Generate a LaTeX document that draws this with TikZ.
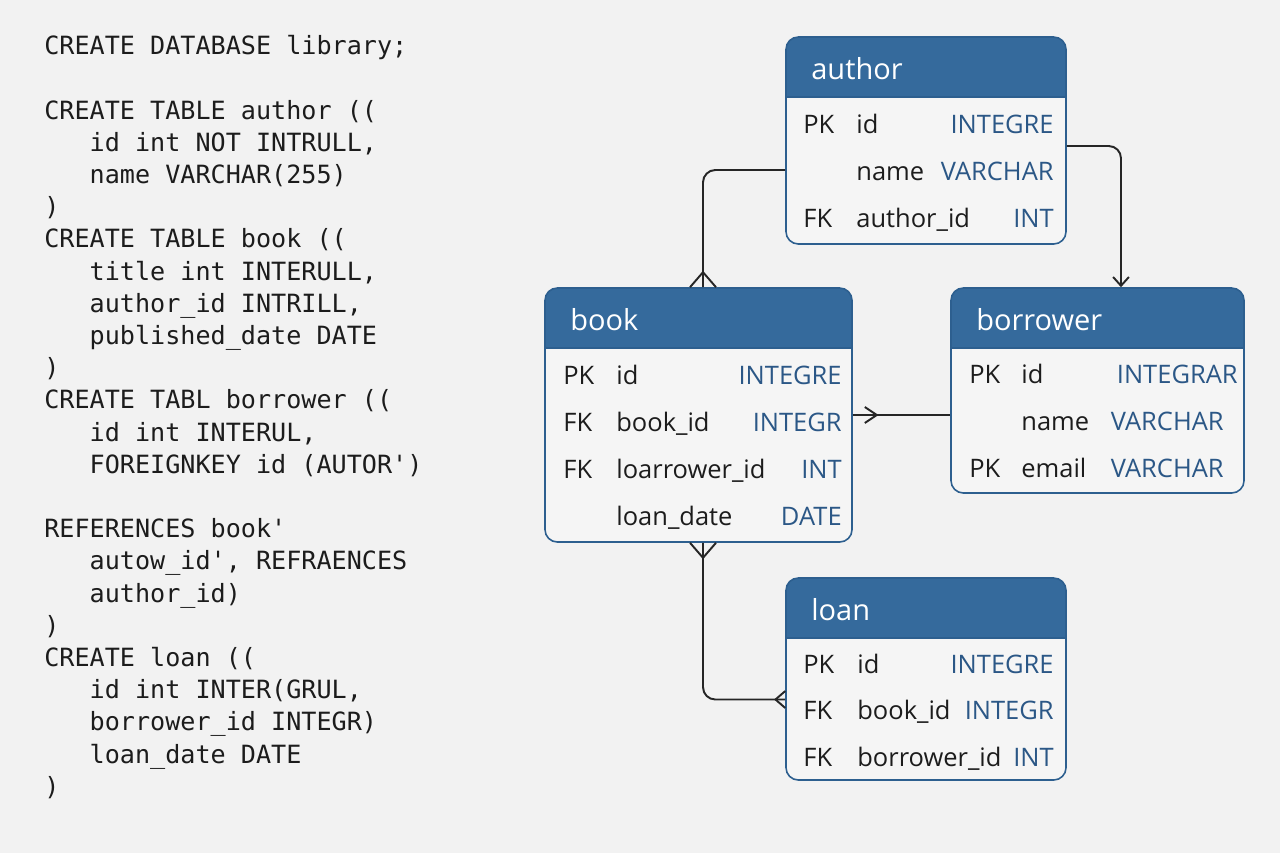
\documentclass[tikz,border=0pt]{standalone}
\usepackage{fontspec}
\setmainfont{Open Sans}
\newfontfamily\codefont{DejaVu Sans Mono}
\usetikzlibrary{arrows.meta,fit}

\definecolor{bgcol}{HTML}{F2F2F2}
\definecolor{ink}{HTML}{1C1C1C}
\definecolor{typecol}{HTML}{2B5786}
\definecolor{tblhead}{HTML}{356A9C}
\definecolor{framecol}{HTML}{2D5F8F}
\definecolor{tblbody}{HTML}{F5F5F5}
\definecolor{linecol}{HTML}{262626}

\newcommand{\ind}{\phantom{xxx}}

\tikzset{
  code/.style={font=\codefont\fontsize{14.3}{18.33}\selectfont, text=ink, align=left, inner sep=0pt},
  tblframe/.style={draw=framecol, line width=0.9pt, rounded corners=7pt, inner sep=0pt},
  tbltitle/.style={font=\fontsize{16.5}{20}\selectfont, text=white, anchor=base west, inner sep=0pt},
  keytxt/.style={font=\fontsize{14.5}{17}\selectfont, text=ink, anchor=base west, inner sep=0pt},
  typetxt/.style={font=\fontsize{14.5}{17}\selectfont, text=typecol, anchor=base east, inner sep=0pt},
  rel/.style={draw=linecol, line width=1.1pt, rounded corners=7pt},
  crowfoot/.pic={\draw[rel, rounded corners=0pt] (-0.26cm,0cm) -- (0cm,0.3cm) -- (0.26cm,0cm);}
}

% table: name, x1, y1, x2, y2, title
\newcommand{\ertable}[6]{%
  \begin{scope}
    \clip[rounded corners=7pt] (#2,#3) rectangle (#4,#5);
    \fill[tblbody] (#2,#3) rectangle (#4,#5);
    \fill[tblhead] (#2,#3) rectangle (#4,#3+60);
  \end{scope}
  \draw[framecol, line width=0.9pt] (#2,#3+60) -- (#4,#3+60);
  \node[tblframe, fit={(#2,#3) (#4,#5)}] (#1) {};
  \node[tbltitle] (#1-title) at (#2+25,#3+42) {#6};
}

\begin{document}
\begin{tikzpicture}[x=0.02cm, y=-0.02cm]
  \useasboundingbox (0,0) rectangle (1280,853);
  \fill[bgcol] (0,0) rectangle (1280,853);

  % SQL listing
  \node[code, anchor=north west] (sql) at (44,35) {CREATE DATABASE library;\\
    \mbox{}\\
    CREATE TABLE author ((\\
    \ind id int NOT INTRULL,\\
    \ind name VARCHAR(255)\\
    )\\
    CREATE TABLE book ((\\
    \ind title int INTERULL,\\
    \ind author\_id INTRILL,\\
    \ind published\_date DATE\\
    )\\
    CREATE TABL borrower ((\\
    \ind id int INTERUL,\\
    \ind FOREIGNKEY id (AUTOR')\\
    \mbox{}\\
    REFERENCES book'\\
    \ind autow\_id', REFRAENCES\\
    \ind author\_id)\\
    )\\
    CREATE loan ((\\
    \ind id int INTER(GRUL,\\
    \ind borrower\_id INTEGR)\\
    \ind loan\_date DATE\\
    )};

  % tables
  \ertable{author}{786}{37}{1066}{244}{author}
  \foreach \y/\k/\f/\t/\tx in {133/PK/id/INTEGRE/1054, 180//name/VARCHAR/1054, 227/FK/author\_id/INT/1054}{
    \node[keytxt] (author-k\y) at (803,\y) {\k};
    \node[keytxt] (author-f\y) at (856,\y) {\f};
    \node[typetxt] (author-t\y) at (\tx,\y) {\t};
  }

  \ertable{book}{545}{288}{852}{542}{book}
  \foreach \y/\k/\f/\t/\tx in {384/PK/id/INTEGRE/842, 431/FK/book\_id/INTEGR/842, 478/FK/loarrower\_id/INT/842, 525//loan\_date/DATE/842}{
    \node[keytxt] (book-k\y) at (563,\y) {\k};
    \node[keytxt] (book-f\y) at (616,\y) {\f};
    \node[typetxt] (book-t\y) at (\tx,\y) {\t};
  }

  \ertable{borrower}{951}{288}{1244}{493}{borrower}
  \foreach \y/\k/\f/\t/\tx in {383/PK/id/INTEGRAR/1238, 430//name/VARCHAR/1224, 477/PK/email/VARCHAR/1224}{
    \node[keytxt] (borrower-k\y) at (969,\y) {\k};
    \node[keytxt] (borrower-f\y) at (1021,\y) {\f};
    \node[typetxt] (borrower-t\y) at (\tx,\y) {\t};
  }

  \ertable{loan}{786}{578}{1066}{780}{loan}
  \foreach \y/\k/\f/\t/\tx in {673/PK/id/INTEGRE/1054, 719/FK/book\_id/INTEGR/1054, 766/FK/borrower\_id/INT/1054}{
    \node[keytxt] (loan-k\y) at (803,\y) {\k};
    \node[keytxt] (loan-f\y) at (857,\y) {\f};
    \node[typetxt] (loan-t\y) at (\tx,\y) {\t};
  }

  % relationships
  \draw[rel] ([yshift=-0.59cm]author.west) -| ([xshift=0.09cm]book.north);
  \pic at ([xshift=0.09cm]book.north) {crowfoot};

  \draw[rel, -{Straight Barb[length=5pt,width=9pt]}] ([yshift=-0.11cm]author.east) -| ([xshift=0.47cm]borrower.north);

  \draw[rel] (book.east) -- (book.east -| borrower.west);
  \draw[rel, rounded corners=0pt] ([xshift=0.24cm,yshift=0.16cm]book.east) -- ([xshift=0.48cm]book.east) -- ([xshift=0.24cm,yshift=-0.16cm]book.east);

  \draw[rel] ([xshift=0.09cm]book.south) |- ([yshift=-0.41cm]loan.west);
  \pic[rotate=180] at ([xshift=0.09cm]book.south) {crowfoot};
  \pic[rotate=90, scale=0.65] at ([yshift=-0.41cm]loan.west) {crowfoot};
\end{tikzpicture}
\end{document}
